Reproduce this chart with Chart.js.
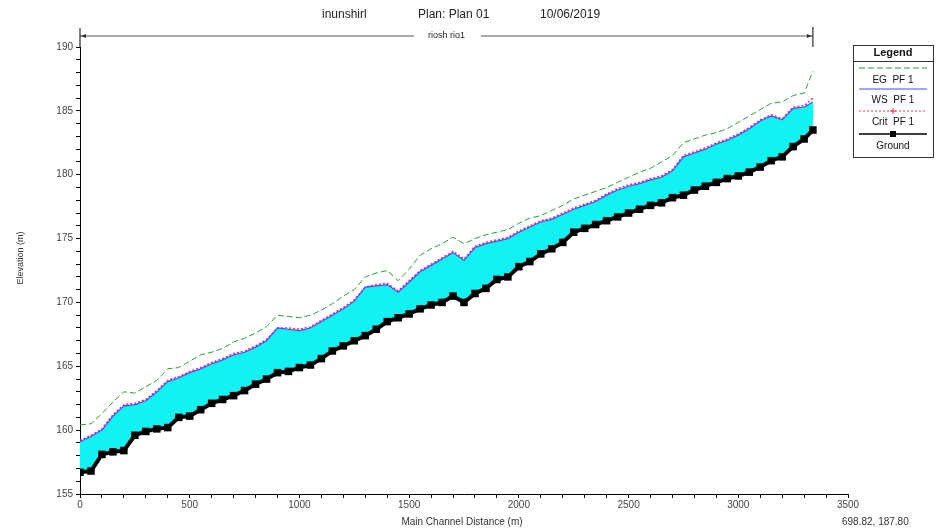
<!DOCTYPE html>
<html>
<head>
<meta charset="utf-8">
<script src="https://cdn.jsdelivr.net/npm/chart.js@4.4.1/dist/chart.umd.min.js"></script>
<style>
  html, body { margin: 0; padding: 0; background: #fff; }
  canvas { display: block; }
</style>
</head>
<body>
<canvas id="profile" width="941" height="531"></canvas>
<script>
const distances = [0,50,100,150,200,250,300,350,400,450,
  500,550,600,650,700,750,800,850,900,950,
  1000,1050,1100,1150,1200,1250,1300,1350,1400,1450,
  1500,1550,1600,1650,1700,1750,1800,1850,1900,1950,
  2000,2050,2100,2150,2200,2250,2300,2350,2400,2450,
  2500,2550,2600,2650,2700,2750,2800,2850,2900,2950,
  3000,3050,3100,3150,3200,3250,3300,3340];

const egPF1 = [160.4,160.5,161.3,162.2,163.0,162.9,163.4,163.9,164.8,164.9,
  165.4,165.9,166.1,166.4,166.9,167.2,167.6,168.1,169.0,168.9,
  168.8,169.0,169.4,169.9,170.5,171.0,172.0,172.3,172.5,171.7,
  172.6,173.7,174.2,174.6,175.1,174.6,175.0,175.3,175.5,175.7,
  176.2,176.6,176.8,177.2,177.6,178.1,178.4,178.7,179.0,179.4,
  179.8,180.2,180.5,181.0,181.5,182.5,182.8,183.1,183.3,183.6,
  184.1,184.6,185.1,185.6,185.7,186.2,186.4,188.1];

const wsPF1 = [159.1,159.5,160.0,161.1,161.9,162.0,162.3,163.0,163.8,164.1,
  164.5,164.8,165.2,165.5,165.9,166.1,166.5,167.0,168.0,167.9,
  167.8,168.0,168.5,169.0,169.5,170.1,171.2,171.3,171.4,170.8,
  171.6,172.4,172.9,173.4,173.9,173.3,174.3,174.6,174.8,175.0,
  175.5,175.9,176.3,176.5,176.9,177.3,177.6,177.9,178.4,178.8,
  179.1,179.3,179.6,179.8,180.3,181.4,181.7,182.0,182.4,182.7,
  183.1,183.6,184.2,184.6,184.3,185.2,185.3,185.7];

const critPF1 = [159.2,159.6,160.1,161.2,162.0,162.1,162.4,163.1,163.9,164.2,
  164.6,164.9,165.3,165.6,166.0,166.2,166.6,167.1,168.0,168.0,
  167.9,168.1,168.6,169.1,169.6,170.2,171.2,171.4,171.5,170.9,
  171.7,172.5,173.0,173.5,174.0,173.4,174.4,174.7,174.9,175.1,
  175.6,176.0,176.4,176.6,177.0,177.4,177.7,178.0,178.5,178.9,
  179.2,179.4,179.7,179.9,180.4,181.5,181.8,182.1,182.5,182.8,
  183.2,183.7,184.3,184.7,184.4,185.3,185.4,186.0];

const ground = [156.7,156.8,158.1,158.3,158.4,159.6,159.9,160.1,160.2,161.0,
  161.1,161.6,162.1,162.4,162.7,163.1,163.6,164.0,164.5,164.6,
  164.9,165.1,165.6,166.2,166.6,167.0,167.4,167.9,168.5,168.8,
  169.1,169.5,169.8,170.0,170.5,170.0,170.7,171.1,171.8,172.0,
  172.8,173.2,173.8,174.2,174.7,175.5,175.8,176.1,176.4,176.7,
  177.0,177.3,177.6,177.8,178.2,178.4,178.8,179.1,179.4,179.7,
  179.9,180.2,180.6,181.1,181.4,182.2,182.8,183.5];

const xTickLabels = [0, 500, 1000, 1500, 2000, 2500, 3000, 3500];
const yTickLabels = [155, 160, 165, 170, 175, 180, 185, 190];

const FONT = '"Liberation Sans", Arial, sans-serif';

function pts(vals) {
  return distances.map((d, i) => ({ x: d, y: vals[i] }));
}

// titles, reach marker, axis titles and the boxed legend
const hecText = {
  id: 'hecText',
  afterDraw(chart) {
    const c = chart.ctx;
    const xs = chart.scales.x;
    c.save();
    c.fillStyle = '#222';
    c.textBaseline = 'middle';
    c.font = '12px ' + FONT;
    c.textAlign = 'left';
    c.fillText('inunshirl', 322, 15);
    c.fillText('Plan: Plan 01', 418, 15);
    c.fillText('10/06/2019', 540, 15);

    // river reach line
    const x0 = xs.getPixelForValue(distances[0]);
    const x1 = xs.getPixelForValue(distances[distances.length - 1]);
    const ry = 36;
    c.font = '9px ' + FONT;
    c.textAlign = 'center';
    const mid = (x0 + x1) / 2;
    const tw = c.measureText('riosh rio1').width;
    c.fillText('riosh rio1', mid, ry);
    c.strokeStyle = '#555';
    c.lineWidth = 1;
    c.beginPath();
    c.moveTo(x0, ry); c.lineTo(mid - tw / 2 - 14, ry);
    c.moveTo(mid + tw / 2 + 16, ry); c.lineTo(x1, ry);
    c.stroke();
    c.strokeStyle = '#000';
    c.beginPath();
    c.moveTo(x0, 28); c.lineTo(x0, 47);
    c.moveTo(x1, 27); c.lineTo(x1, 47);
    c.stroke();
    c.fillStyle = '#333';
    c.beginPath();
    c.moveTo(x0 + 1, ry); c.lineTo(x0 + 6, ry - 2); c.lineTo(x0 + 6, ry + 2); c.closePath();
    c.moveTo(x1 - 1, ry); c.lineTo(x1 - 6, ry - 2); c.lineTo(x1 - 6, ry + 2); c.closePath();
    c.fill();

    // axis titles
    c.fillStyle = '#333';
    c.font = '10px ' + FONT;
    c.textAlign = 'center';
    c.fillText('Main Channel Distance (m)', 462, 522);
    c.textAlign = 'left';
    c.fillText('698.82, 187.80', 842, 522);
    c.save();
    c.translate(21, 258);
    c.rotate(-Math.PI / 2);
    c.textAlign = 'center';
    c.font = '9px ' + FONT;
    c.fillText('Elevation (m)', 0, 0);
    c.restore();

    // legend box
    const lx = 853, lw = 80, ly = 45, lh = 112;
    c.strokeStyle = '#333';
    c.lineWidth = 1;
    c.strokeRect(lx + 0.5, ly + 0.5, lw, lh);
    c.beginPath();
    c.moveTo(lx, 61.5); c.lineTo(lx + lw, 61.5);
    c.stroke();
    c.fillStyle = '#111';
    c.textAlign = 'center';
    c.font = 'bold 11px ' + FONT;
    c.fillText('Legend', lx + lw / 2, 53);
    c.font = '10px ' + FONT;
    const cx = lx + lw / 2;
    const rows = [
      { ds: 0, ly: 68, ty: 80 },
      { ds: 1, ly: 89, ty: 100 },
      { ds: 2, ly: 111, ty: 122 },
      { ds: 3, ly: 134, ty: 146 }
    ];
    rows.forEach(r => {
      const ds = chart.data.datasets[r.ds];
      c.save();
      c.strokeStyle = ds.borderColor;
      c.lineWidth = r.ds === 3 ? 1.5 : 1;
      c.setLineDash(ds.borderDash || []);
      c.beginPath();
      c.moveTo(lx + 6, r.ly); c.lineTo(lx + lw - 6, r.ly);
      c.stroke();
      c.setLineDash([]);
      if (r.ds === 2) {
        c.beginPath();
        c.moveTo(cx - 3, r.ly); c.lineTo(cx + 3, r.ly);
        c.moveTo(cx, r.ly - 3); c.lineTo(cx, r.ly + 3);
        c.stroke();
      }
      if (r.ds === 3) {
        c.fillStyle = '#000';
        c.fillRect(cx - 3, r.ly - 3, 6, 6);
      }
      c.restore();
      c.fillStyle = '#111';
      c.fillText(ds.label, cx, r.ty);
    });
    c.restore();
  }
};

const ctx = document.getElementById('profile').getContext('2d');

const profileChart = new Chart(ctx, {
  type: 'line',
  data: {
    datasets: [
      {
        label: 'EG  PF 1',
        data: pts(egPF1),
        borderColor: '#2f9a3a',
        borderWidth: 1,
        borderDash: [6, 3],
        pointRadius: 0,
        fill: false
      },
      {
        label: 'WS  PF 1',
        data: pts(wsPF1),
        borderColor: '#4a4aff',
        borderWidth: 1.2,
        backgroundColor: '#12f2f2',
        pointRadius: 0,
        fill: 3
      },
      {
        label: 'Crit  PF 1',
        data: pts(critPF1),
        borderColor: '#ff2a55',
        borderWidth: 1.5,
        borderDash: [2, 2],
        pointRadius: 0,
        fill: false
      },
      {
        label: 'Ground',
        data: pts(ground),
        borderColor: '#000',
        borderWidth: 4,
        pointStyle: 'rect',
        pointRadius: 2.5,
        pointBackgroundColor: '#000',
        pointBorderColor: '#000',
        fill: false
      }
    ]
  },
  options: {
    responsive: false,
    animation: false,
    devicePixelRatio: 1,
    layout: { padding: { top: 47, right: 93, left: 0, bottom: 0 } },
    scales: {
      x: {
        type: 'linear',
        min: 0,
        max: 3500,
        afterFit(scale) { scale.height = 37; },
        border: { color: '#000', width: 1 },
        grid: { drawOnChartArea: false, drawTicks: true, tickLength: 4, color: '#000' },
        ticks: {
          stepSize: 100,
          autoSkip: false,
          maxRotation: 0,
          padding: 1,
          color: '#444',
          font: { size: 10, family: FONT },
          callback: function(value) {
            return xTickLabels.includes(value) ? String(value) : '';
          }
        }
      },
      y: {
        min: 155,
        max: 190,
        afterFit(scale) { scale.width = 80; },
        border: { color: '#000', width: 1 },
        grid: { drawOnChartArea: false, drawTicks: true, tickLength: 4, color: '#000' },
        ticks: {
          stepSize: 1,
          autoSkip: false,
          padding: 3,
          color: '#444',
          font: { size: 10, family: FONT },
          callback: function(value) {
            return yTickLabels.includes(value) ? String(value) : '';
          }
        }
      }
    },
    plugins: {
      legend: { display: false },
      tooltip: { enabled: false },
      filler: { drawTime: 'beforeDatasetsDraw' }
    }
  },
  plugins: [hecText]
});
</script>
</body>
</html>
